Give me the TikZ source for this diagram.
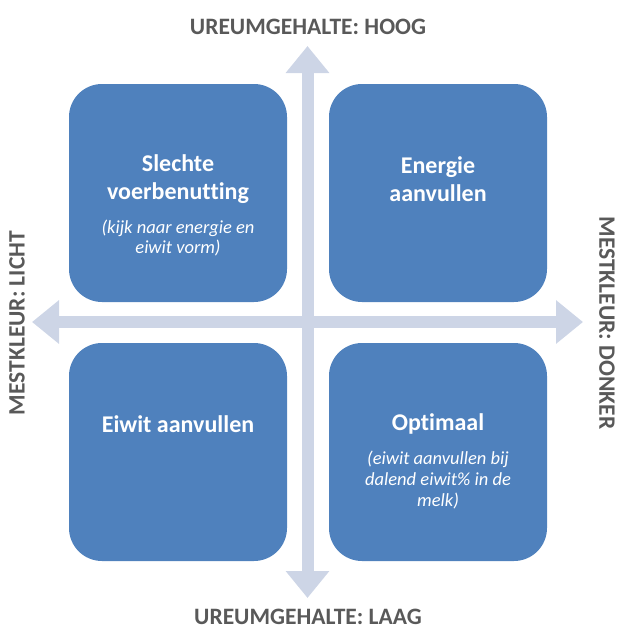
\documentclass[tikz,border=0pt]{standalone}
\usepackage{fontspec}
\setmainfont{Carlito}[Ligatures={NoCommon,TeX}]
\usetikzlibrary{arrows.meta}
\definecolor{boxblue}{HTML}{4F81BD}
\definecolor{arrowc}{HTML}{CDD5E6}
\definecolor{labgray}{HTML}{595959}
\tikzset{
  quad/.style={draw=none, fill=boxblue, rounded corners=33pt, minimum width=218pt, minimum height=218pt, inner sep=0pt},
  ttl/.style={text=white, font=\fontsize{24}{28.5}\selectfont\bfseries, align=center},
  sub/.style={text=white, font=\fontsize{18.5}{20.7}\selectfont\itshape, align=center},
  axlab/.style={text=labgray, font=\fontsize{23.5}{26}\selectfont\bfseries},
  axarrow/.style={draw=arrowc, line width=12pt, {Triangle[width=42pt,length=27pt]}-{Triangle[width=42pt,length=27pt]}}
}
\begin{document}
\begin{tikzpicture}[x=1pt,y=-1pt]
\useasboundingbox (0,0) rectangle (623,640);
\node[quad] (tl) at (178,193) {};
\node[quad] (tr) at (438,193) {};
\node[quad] (bl) at (178,452) {};
\node[quad] (br) at (438,452) {};
\coordinate (top) at (307.5,46);
\coordinate (bot) at (307.5,598);
\coordinate (lft) at (32,322);
\coordinate (rgt) at (583,322);
\draw[axarrow] (top) -- (bot);
\draw[axarrow] (lft) -- (rgt);
\node[ttl] (tlt) at (178,179) {Slechte\\voerbenutting};
\node[sub] (tls) at (178,238) {(kijk naar energie en\\eiwit vorm)};
\node[ttl] (trt) at (438,179) {Energie\\aanvullen};
\node[ttl] (blt) at (178,424) {Eiwit aanvullen};
\node[ttl] (brt) at (438,424) {Optimaal};
\node[sub] (brs) at (438,480) {(eiwit aanvullen bij\\dalend eiwit\% in de\\melk)};
\node[axlab] (ltop) at (308,27) {UREUMGEHALTE: HOOG};
\node[axlab] (lbot) at (308,617) {UREUMGEHALTE: LAAG};
\node[axlab, rotate=90] (lleft) at (17,323) {MESTKLEUR: LICHT};
\node[axlab, rotate=-90] (lright) at (607,323) {MESTKLEUR: DONKER};
\end{tikzpicture}
\end{document}
